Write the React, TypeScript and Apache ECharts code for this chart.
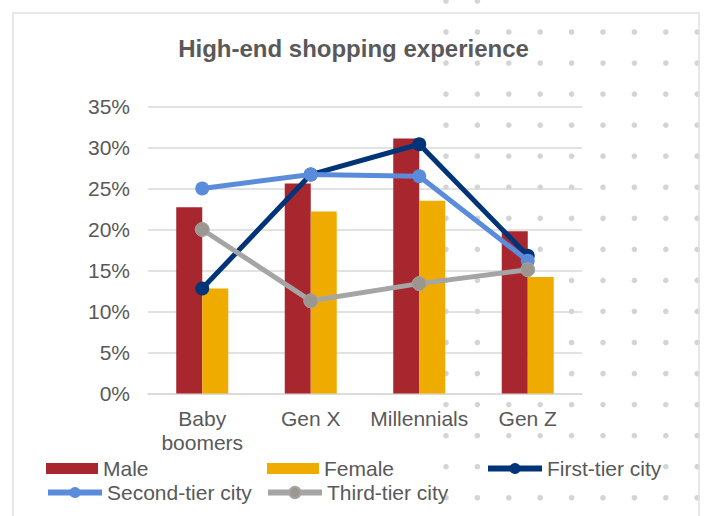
import React, { useEffect, useRef } from "react";
import * as echarts from "echarts";

const categories = ["Baby\nboomers", "Gen X", "Millennials", "Gen Z"];
const male = [22.7, 25.6, 31.1, 19.8];
const female = [12.8, 22.2, 23.5, 14.2];
const firstTier = [12.8, 26.7, 30.4, 16.8];
const secondTier = [25.0, 26.7, 26.5, 16.2];
const thirdTier = [20.0, 11.3, 13.4, 15.1];
const yTicks = { min: 0, max: 35, interval: 5 };

const FONT = "Liberation Sans, Arial, sans-serif";
const TEXT = "#595959";

function buildDots() {
  const els: any[] = [];
  const cols = 9;
  for (let c = 0; c < cols; c++) {
    const x = 446 + c * 31.4;
    if (c < 2) {
      els.push({ type: "circle", z: -10, silent: true, shape: { cx: x, cy: 1, r: 2.8 }, style: { fill: "#d4d4d4" } });
    }
    for (let r = 0; r < 16; r++) {
      const y = 32 + r * 31.05;
      els.push({ type: "circle", z: -10, silent: true, shape: { cx: x, cy: y, r: 2.8 }, style: { fill: "#d4d4d4" } });
    }
  }
  return els;
}

export default function App() {
  const ref = useRef<HTMLDivElement>(null);
  useEffect(() => {
    if (!ref.current) return;
    const chart = echarts.init(ref.current, undefined, { renderer: "svg" });
    const legendText = { fontSize: 21, color: TEXT, fontFamily: FONT };
    const barLegend = (name: string, left: number, top: number) => ({
      data: [name],
      left,
      top,
      padding: 0,
      icon: "rect",
      itemWidth: 52,
      itemHeight: 11,
      selectedMode: false,
      textStyle: legendText,
    });
    const lineLegend = (name: string, left: number, top: number, bg?: string) => ({
      data: [name],
      left,
      top,
      padding: 0,
      itemWidth: 54,
      itemHeight: 14,
      selectedMode: false,
      backgroundColor: bg || "transparent",
      lineStyle: { width: 6 },
      textStyle: legendText,
    });
    chart.setOption({
      animation: false,
      backgroundColor: "#ffffff",
      title: {
        text: "High-end shopping experience",
        left: "center",
        top: 31,
        textStyle: { fontSize: 24, fontWeight: "bold", color: TEXT, fontFamily: FONT },
      },
      graphic: [
        ...buildDots(),
        {
          type: "rect",
          z: -5,
          silent: true,
          shape: { x: 13, y: 13, width: 686, height: 520 },
          style: { fill: "none", stroke: "#e0e0e0", lineWidth: 1.5 },
        },
      ],
      legend: [
        barLegend("Male", 46, 458),
        barLegend("Female", 267, 458),
        lineLegend("First-tier city", 485, 458, "#ffffff"),
        lineLegend("Second-tier city", 45, 482),
        lineLegend("Third-tier city", 265, 482),
      ],
      grid: { left: 148, right: 125, top: 106.5, bottom: 122.5, containLabel: false },
      xAxis: {
        type: "category",
        data: categories,
        axisTick: { show: false },
        axisLine: { lineStyle: { color: "#d9d9d9", width: 1.5 } },
        axisLabel: { fontSize: 21, color: TEXT, fontFamily: FONT, lineHeight: 24, margin: 13, interval: 0 },
      },
      yAxis: {
        type: "value",
        min: yTicks.min,
        max: yTicks.max,
        interval: yTicks.interval,
        axisLabel: { formatter: "{value}%", fontSize: 21, color: TEXT, fontFamily: FONT, margin: 18 },
        axisLine: { show: false },
        axisTick: { show: false },
        splitLine: { lineStyle: { color: "#d9d9d9", width: 1.5 } },
      },
      series: [
        { name: "Male", type: "bar", data: male, barWidth: 26, barGap: "0%", itemStyle: { color: "#a8262e" } },
        { name: "Female", type: "bar", data: female, barWidth: 26, barGap: "0%", itemStyle: { color: "#f0ab00" } },
        {
          name: "First-tier city", type: "line", data: firstTier, symbol: "circle", symbolSize: 14,
          lineStyle: { color: "#003478", width: 5 }, itemStyle: { color: "#003478" }, z: 3,
        },
        {
          name: "Second-tier city", type: "line", data: secondTier, symbol: "circle", symbolSize: 14,
          lineStyle: { color: "#5b8bdb", width: 5 }, itemStyle: { color: "#5b8bdb" }, z: 4,
        },
        {
          name: "Third-tier city", type: "line", data: thirdTier, symbol: "circle", symbolSize: 14,
          lineStyle: { color: "#a5a5a5", width: 5 }, itemStyle: { color: "#9b968f", borderColor: "#a5a5a5", borderWidth: 1 }, z: 5,
        },
      ],
    });
    return () => chart.dispose();
  }, []);
  return <div ref={ref} style={{ position: "fixed", left: 0, top: 0, width: 707, height: 516 }} />;
}
